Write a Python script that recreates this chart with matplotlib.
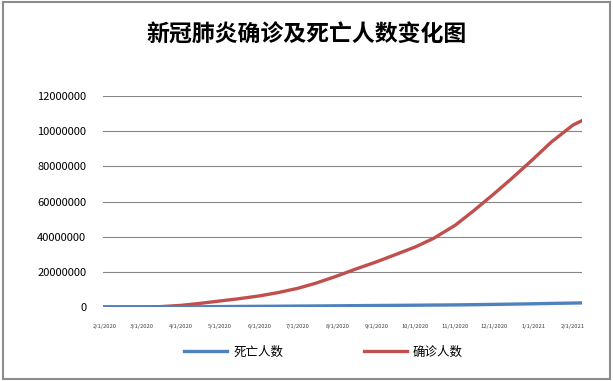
import datetime as dt
import matplotlib.pyplot as plt
import matplotlib.dates as mdates
from matplotlib.patches import Rectangle

plt.rcParams['font.family'] = ['Noto Sans CJK SC', 'DejaVu Sans']

# cumulative world figures (approx.)
dates = ['2020-02-01', '2020-02-15', '2020-03-01', '2020-03-15', '2020-04-01', '2020-04-15',
         '2020-05-01', '2020-05-15', '2020-06-01', '2020-06-15', '2020-07-01', '2020-07-15',
         '2020-08-01', '2020-08-15', '2020-09-01', '2020-09-15', '2020-10-01', '2020-10-15',
         '2020-11-01', '2020-11-15', '2020-12-01', '2020-12-15', '2021-01-01', '2021-01-15',
         '2021-02-01', '2021-02-08']
confirmed = [12000, 69000, 88000, 170000, 930000, 2000000,
             3400000, 4600000, 6300000, 8100000, 10600000, 13500000,
             17700000, 21500000, 25800000, 29700000, 34200000, 39000000,
             46500000, 54500000, 64200000, 73000000, 84200000, 93800000,
             103500000, 106000000]
deaths = [260, 1700, 3000, 6500, 47000, 126000,
          240000, 310000, 375000, 440000, 520000, 590000,
          685000, 770000, 860000, 935000, 1020000, 1100000,
          1200000, 1320000, 1480000, 1630000, 1830000, 2040000,
          2240000, 2320000]

x_ticks = ['2020-02-01', '2020-03-01', '2020-04-01', '2020-05-01', '2020-06-01', '2020-07-01',
           '2020-08-01', '2020-09-01', '2020-10-01', '2020-11-01', '2020-12-01', '2021-01-01',
           '2021-02-01']
x_labels = ['2/1/2020', '3/1/2020', '4/1/2020', '5/1/2020', '6/1/2020', '7/1/2020',
            '8/1/2020', '9/1/2020', '10/1/2020', '11/1/2020', '12/1/2020', '1/1/2021',
            '2/1/2021']
y_ticks = [0, 20000000, 40000000, 60000000, 80000000, 100000000, 120000000]
y_labels = ['0', '20000000', '40000000', '60000000', '80000000', '10000000', '12000000']

to_d = lambda s: dt.datetime.strptime(s, '%Y-%m-%d')
xs = [to_d(d) for d in dates]

fig = plt.figure(figsize=(6.13, 3.81), dpi=100)
fig.patches.append(Rectangle((0.005, 0.005), 0.99, 0.99, transform=fig.transFigure,
                             fill=False, edgecolor='#8c8c8c', linewidth=1.5))
ax = fig.add_axes([103/613, 1-307/381, (582-103)/613, (307-96)/381])

ax.plot(xs, confirmed, color='#C0504D', linewidth=2.4, label='确诊人数', zorder=3)
ax.plot(xs, deaths, color='#4F81BD', linewidth=2.4, label='死亡人数', zorder=3)

ax.set_ylim(0, 120000000)
ax.set_yticks(y_ticks)
ax.set_yticklabels(y_labels, fontsize=8)
ax.set_xlim(to_d('2020-01-31'), to_d('2021-02-08'))
ax.set_xticks([to_d(d) for d in x_ticks])
ax.set_xticklabels(x_labels, fontsize=4.2, color='#404040')
ax.tick_params(axis='y', length=0, pad=12)
ax.tick_params(axis='x', length=0, pad=12)
ax.grid(axis='y', color='#868686', linewidth=0.8)
ax.set_axisbelow(True)
for s in ax.spines.values():
    s.set_visible(False)

fig.text(0.5, 0.908, '新冠肺炎确诊及死亡人数变化图', ha='center', va='center',
         fontsize=16.5, fontweight='bold')

h, l = ax.get_legend_handles_labels()
fig.legend([h[1], h[0]], [l[1], l[0]], loc='center', bbox_to_anchor=(0.528, 1-352/381),
           ncol=2, frameon=False, fontsize=9, handlelength=3.4, handletextpad=0.5,
           columnspacing=6.5)

fig.savefig('out.png', dpi=100)
